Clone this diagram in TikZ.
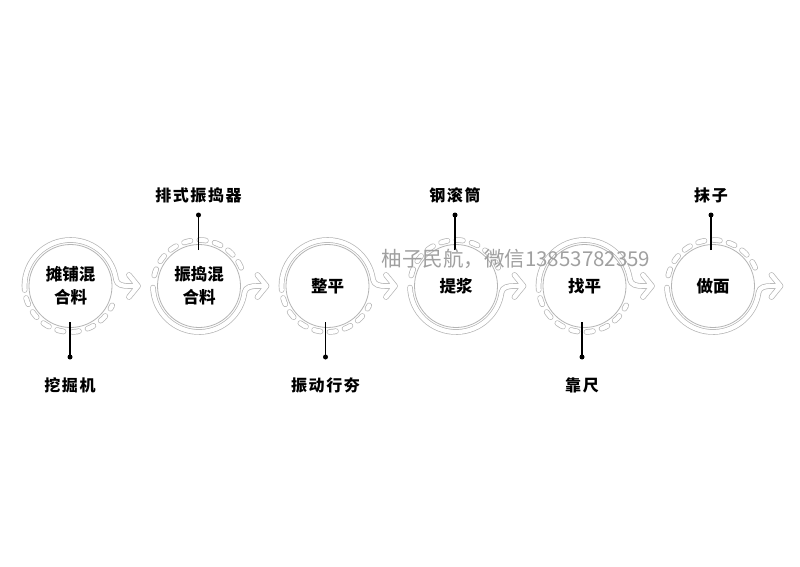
\documentclass[tikz,border=0pt]{standalone}
\usepackage{fontspec}
\usetikzlibrary{calc}
\newfontfamily\cjk{Noto Sans CJK SC}
\newfontfamily\cjkls{Noto Sans CJK SC}[LetterSpace=10]
\definecolor{ringgray}{HTML}{B4B4B4}
\definecolor{markgray}{HTML}{A0A0A0}
\newcommand\ringA[1]{%
  \draw[band] ($(#1)+(185:46)$) arc[start angle=185,end angle=8,radius=46]
     to[out=-82,in=180] ($(#1)+(58,0)$) -- ($(#1)+(67.5,0)$)
     ($(#1)+(58.5,11)$) -- ($(#1)+(67.5,0)$) -- ($(#1)+(58.5,-11)$);
  \draw[dband] ($(#1)+(194:46)$) arc[start angle=194,end angle=335,radius=46];}
\newcommand\ringB[1]{%
  \draw[band] ($(#1)+(182:46)$) arc[start angle=182,end angle=352,radius=46]
     to[out=82,in=180] ($(#1)+(58,0)$) -- ($(#1)+(67.5,0)$)
     ($(#1)+(58.5,11)$) -- ($(#1)+(67.5,0)$) -- ($(#1)+(58.5,-11)$);
  \draw[dband] ($(#1)+(168:46)$) arc[start angle=168,end angle=14,radius=46];}
\begin{document}
\begin{tikzpicture}[x=1pt,y=1pt,
  band/.style={draw=ringgray, line width=0.7pt, double=white, double distance=4.2pt, line cap=round, line join=round},
  dband/.style={band, dash pattern=on 6.5pt off 9pt, dash phase=-1pt},
  stepnode/.style={circle, draw=ringgray, line width=0.8pt, minimum size=83pt, inner sep=0pt,
     font=\cjk\bfseries\fontsize{16.5}{23}\selectfont, align=center, text=black},
  toolname/.style={font=\cjkls\bfseries\fontsize{16}{20}\selectfont, text=black, inner sep=0pt},
  stem/.style={draw=black, line width=1.4pt},
  pin/.style={fill=black, circle, inner sep=0pt, minimum size=5pt}
]
\useasboundingbox (0,0) rectangle (800,566);
\fill[white] (0,0) rectangle (800,566);

% step circles
\node[stepnode] (s1) at (70.5,280) {摊铺混\\合料};
\node[stepnode] (s2) at (199,280) {振捣混\\合料};
\node[stepnode] (s3) at (327.5,280) {整平};
\node[stepnode] (s4) at (456,280) {提浆};
\node[stepnode] (s5) at (584.5,280) {找平};
\node[stepnode] (s6) at (713,280) {做面};

% rings and arrows
\ringA{s1.center}
\ringB{s2.center}
\ringA{s3.center}
\ringB{s4.center}
\ringA{s5.center}
\ringB{s6.center}

% tools below
\coordinate (e1) at (70,244);   \node[pin] (p1) at (70,209) {};   \node[toolname] (t1) at (70,181) {挖掘机};
\coordinate (e3) at (325.5,244);\node[pin] (p3) at (325.5,209) {};\node[toolname] (t3) at (325.5,181) {振动行夯};
\coordinate (e5) at (582,244);  \node[pin] (p5) at (582,209) {};  \node[toolname] (t5) at (582,181) {靠尺};
% tools above
\coordinate (e2) at (198.5,316);\node[pin] (p2) at (198.5,351) {};\node[toolname] (t2) at (198.5,371) {排式振捣器};
\coordinate (e4) at (455,316);  \node[pin] (p4) at (455,351) {};  \node[toolname] (t4) at (455,371) {钢滚筒};
\coordinate (e6) at (711,316);  \node[pin] (p6) at (711,351) {};  \node[toolname] (t6) at (711,371) {抹子};

\foreach \k in {1,...,6} { \draw[stem] (e\k) -- (p\k.center); }

% watermark
\node[text=markgray, font=\cjk\fontsize{20.5}{24}\selectfont, inner sep=0pt] (wm) at (516,307) {柚子民航，微信13853782359};
\end{tikzpicture}
\end{document}
